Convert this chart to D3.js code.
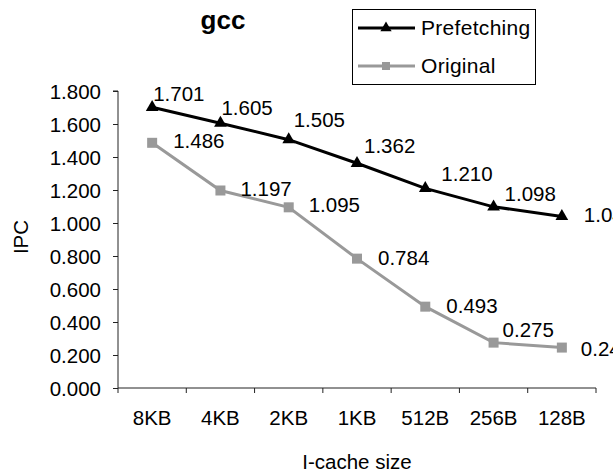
<!DOCTYPE html>
<html>
<head>
<meta charset="utf-8">
<script src="https://cdn.jsdelivr.net/npm/d3@7/dist/d3.min.js"></script>
<style>
  html, body { margin: 0; padding: 0; background: #fff; }
  svg { display: block; font-family: "Liberation Sans", Arial, sans-serif; }
</style>
</head>
<body>
<svg id="chart" width="613" height="475"></svg>
<script>
// ---- data ----
const categories = ["8KB", "4KB", "2KB", "1KB", "512B", "256B", "128B"];
const prefetching = [1.701, 1.605, 1.505, 1.362, 1.210, 1.098, 1.040];
const original = [1.486, 1.197, 1.095, 0.784, 0.493, 0.275, 0.245];
const yTicks = [0, 0.2, 0.4, 0.6, 0.8, 1.0, 1.2, 1.4, 1.6, 1.8];
const seriesNames = ["Prefetching", "Original"];

// label nudges (relative to each point, in px)
const prefLabelDx = [1, 1, 5, 7, 16, 11, 22];
const prefLabelDy = [-6, -8, -13, -10, -7, -6, 6];
const origLabelDx = [21, 20, 20, 21, 21, 9, 19];
const origLabelDy = [5, 6, 5, 6, 6, -6, 8];

// ---- layout ----
const svg = d3.select("#chart");
const plotLeft = 118, plotRight = 596, plotTop = 91, plotBottom = 388;
const fontSize = 20.5;

const x = d3.scaleBand().domain(categories).range([plotLeft, plotRight]);
const y = d3.scaleLinear().domain([0, 1.8]).range([plotBottom, plotTop]);
const cx = c => x(c) + x.bandwidth() / 2;

// Y axis
const yAxis = svg.append("g").attr("transform", `translate(${plotLeft},0)`)
  .call(d3.axisLeft(y).tickValues(yTicks).tickFormat(d3.format(".3f")).tickSize(5).tickPadding(12));
yAxis.select(".domain").attr("stroke", "#222").attr("d", `M-5,${y(1.8)}H0V${plotBottom}`);
yAxis.selectAll(".tick line").attr("stroke", "#222");
yAxis.selectAll(".tick text").attr("font-size", fontSize).attr("fill", "#000")
  .attr("font-family", "Liberation Sans, Arial, sans-serif").attr("dy", "0.35em");

// X axis with ticks at band edges
const xg = svg.append("g").attr("transform", `translate(0,${plotBottom})`);
xg.append("line").attr("x1", plotLeft).attr("x2", plotRight).attr("y1", 0).attr("y2", 0).attr("stroke", "#222");
const edges = categories.map(c => x(c)).concat([plotRight]);
xg.selectAll("line.tk").data(edges).join("line").attr("class", "tk")
  .attr("x1", d => d).attr("x2", d => d).attr("y1", 0).attr("y2", 5).attr("stroke", "#222");
xg.selectAll("text").data(categories).join("text")
  .attr("x", d => cx(d)).attr("y", 37).attr("text-anchor", "middle")
  .attr("font-size", fontSize).attr("fill", "#000").text(d => d);

// axis titles
svg.append("text").attr("transform", `translate(28,237) rotate(-90)`)
  .attr("text-anchor", "middle").attr("font-size", fontSize).text("IPC");
svg.append("text").attr("x", 357).attr("y", 469).attr("text-anchor", "middle")
  .attr("font-size", fontSize).text("I-cache size");

// chart title
svg.append("text").attr("x", 223).attr("y", 29).attr("text-anchor", "middle")
  .attr("font-size", 26).attr("font-weight", "bold").text("gcc");

// lines
const line = d3.line().x((d, i) => cx(categories[i])).y(d => y(d));
svg.append("path").datum(original).attr("d", line)
  .attr("fill", "none").attr("stroke", "#999").attr("stroke-width", 3);
svg.append("path").datum(prefetching).attr("d", line)
  .attr("fill", "none").attr("stroke", "#000").attr("stroke-width", 3);

// markers
const tri = d3.symbol().type(d3.symbolTriangle).size(70);
svg.selectAll("path.tri").data(prefetching).join("path").attr("class", "tri")
  .attr("d", tri).attr("fill", "#000")
  .attr("transform", (d, i) => `translate(${cx(categories[i])},${y(d)})`);
svg.selectAll("rect.sq").data(original).join("rect").attr("class", "sq")
  .attr("x", (d, i) => cx(categories[i]) - 5).attr("y", d => y(d) - 5)
  .attr("width", 10).attr("height", 10).attr("fill", "#999");

// data labels
const fmt = d3.format(".3f");
svg.selectAll("text.pl").data(prefetching).join("text").attr("class", "pl")
  .attr("x", (d, i) => cx(categories[i]) + prefLabelDx[i])
  .attr("y", (d, i) => y(d) + prefLabelDy[i])
  .attr("font-size", fontSize).text(d => fmt(d));
svg.selectAll("text.ol").data(original).join("text").attr("class", "ol")
  .attr("x", (d, i) => cx(categories[i]) + origLabelDx[i])
  .attr("y", (d, i) => y(d) + origLabelDy[i])
  .attr("font-size", fontSize).text(d => fmt(d));

// legend
const lg = svg.append("g");
lg.append("rect").attr("x", 352.5).attr("y", 9.5).attr("width", 183).attr("height", 75)
  .attr("fill", "#fff").attr("stroke", "#000").attr("stroke-width", 1);
const legendRows = [
  { name: seriesNames[0], color: "#000", shape: "tri", y: 28 },
  { name: seriesNames[1], color: "#999", shape: "sq", y: 66 }
];
legendRows.forEach(r => {
  lg.append("line").attr("x1", 358).attr("x2", 415).attr("y1", r.y).attr("y2", r.y)
    .attr("stroke", r.color).attr("stroke-width", 3);
  if (r.shape === "tri") {
    lg.append("path").attr("d", d3.symbol().type(d3.symbolTriangle).size(55)())
      .attr("transform", `translate(386,${r.y})`).attr("fill", r.color);
  } else {
    lg.append("rect").attr("x", 382).attr("y", r.y - 4).attr("width", 8).attr("height", 8).attr("fill", r.color);
  }
  lg.append("text").attr("x", 421).attr("y", r.y + 7).attr("font-size", 21)
    .attr("letter-spacing", 0.3).text(r.name);
});
</script>
</body>
</html>
